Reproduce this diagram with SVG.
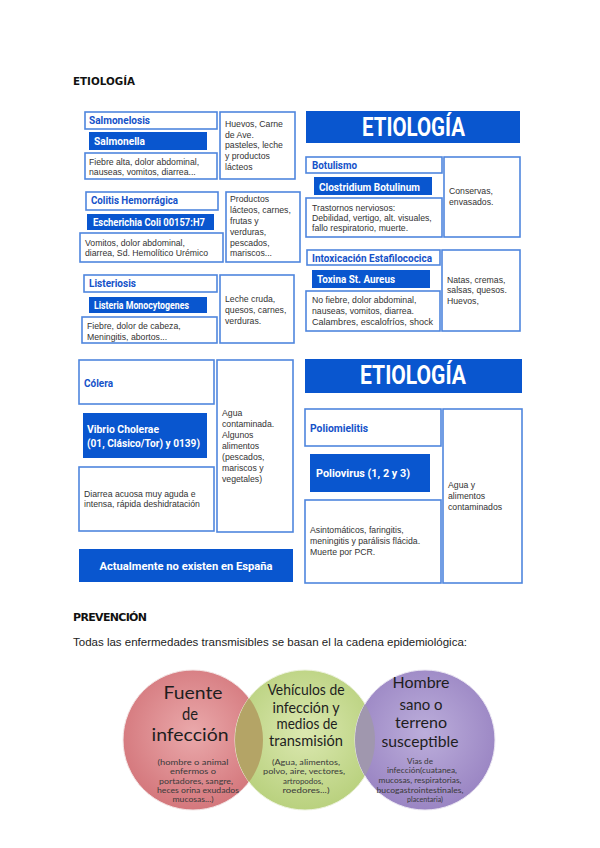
<svg xmlns="http://www.w3.org/2000/svg" width="600" height="848" viewBox="0 0 600 848">
<style>
.box{fill:#fff;stroke:#4f86de;stroke-width:1.6}
.fb{fill:#0956cf}
.hd{font-family:Roboto,"DejaVu Sans",sans-serif;font-weight:bold;font-size:10.5px;fill:#1552c9}
.wt{font-family:Roboto,"DejaVu Sans",sans-serif;font-weight:bold;font-size:10.5px;fill:#fff}
.ban{font-family:Roboto,"DejaVu Sans",sans-serif;font-weight:bold;font-size:25px;fill:#fff}
.tx{font-family:"Liberation Sans",Arial,sans-serif;font-size:8.7px;fill:#333}
.h1{font-family:"DejaVu Sans",sans-serif;font-weight:bold;font-size:11px;fill:#111}
.body{font-family:"Liberation Sans",Arial,sans-serif;font-size:10.5px;fill:#222}
.cb{font-family:Lato,"Open Sans",sans-serif;fill:#1e1e1e;text-anchor:middle}
.cs{font-family:Lato,"Open Sans",sans-serif;fill:#3a3a3a;text-anchor:middle;font-size:7.5px}
</style>
<defs>
<radialGradient id="gr" cx="50%" cy="45%" r="55%"><stop offset="0" stop-color="#eaa9ab"/><stop offset="1" stop-color="#d4777c"/></radialGradient>
<radialGradient id="gg" cx="50%" cy="45%" r="55%"><stop offset="0" stop-color="#dbe8b0"/><stop offset="1" stop-color="#b9d17e"/></radialGradient>
<radialGradient id="gp" cx="50%" cy="45%" r="55%"><stop offset="0" stop-color="#bcaedb"/><stop offset="1" stop-color="#9a85c3"/></radialGradient>
<clipPath id="cr"><circle cx="193" cy="740" r="70"/></clipPath>
<clipPath id="cp"><circle cx="425" cy="740" r="70"/></clipPath>
</defs>
<rect width="600" height="848" fill="#fff"/>

<g id="title-etiologia"><text class="h1" x="73" y="85" textLength="62" lengthAdjust="spacingAndGlyphs">ETIOLOGÍA</text></g>

<g id="salmonelosis">
<rect class="box" x="85" y="112" width="132" height="17"/>
<text class="hd" x="89" y="124" textLength="61" lengthAdjust="spacingAndGlyphs">Salmonelosis</text>
<rect class="fb" x="89" y="132" width="118" height="18"/>
<text class="wt" x="94" y="145" textLength="51" lengthAdjust="spacingAndGlyphs">Salmonella</text>
<rect class="box" x="85" y="153" width="132" height="26"/>
<text class="tx" x="89" y="165">Fiebre alta, dolor abdominal,</text>
<text class="tx" x="89" y="175">nauseas, vomitos, diarrea...</text>
<rect class="box" x="220" y="112" width="75" height="67"/>
<text class="tx" x="225" y="127">Huevos, Carne</text>
<text class="tx" x="225" y="138">de Ave.</text>
<text class="tx" x="225" y="148">pasteles, leche</text>
<text class="tx" x="225" y="159">y productos</text>
<text class="tx" x="225" y="170">lácteos</text>
</g>

<g id="colitis">
<rect class="box" x="86" y="192" width="132" height="18"/>
<text class="hd" x="91" y="204" textLength="87" lengthAdjust="spacingAndGlyphs">Colitis Hemorrágica</text>
<rect class="fb" x="87" y="214" width="127" height="16"/>
<text class="wt" x="93" y="226" textLength="112" lengthAdjust="spacingAndGlyphs">Escherichia Coli 00157:H7</text>
<rect class="box" x="80" y="233" width="143" height="29"/>
<text class="tx" x="85" y="246">Vomitos, dolor abdominal,</text>
<text class="tx" x="85" y="256">diarrea, Sd. Hemolítico Urémico</text>
<rect class="box" x="226" y="192" width="74" height="70"/>
<text class="tx" x="230" y="202">Productos</text>
<text class="tx" x="230" y="213">lácteos, carnes,</text>
<text class="tx" x="230" y="224">frutas y</text>
<text class="tx" x="230" y="235">verduras,</text>
<text class="tx" x="230" y="246">pescados,</text>
<text class="tx" x="230" y="256">mariscos...</text>
</g>

<g id="listeriosis">
<rect class="box" x="84" y="275" width="133" height="17"/>
<text class="hd" x="89" y="287" textLength="47" lengthAdjust="spacingAndGlyphs">Listeriosis</text>
<rect class="fb" x="89" y="297" width="118" height="16"/>
<text class="wt" x="94" y="309" textLength="95" lengthAdjust="spacingAndGlyphs">Listeria Monocytogenes</text>
<rect class="box" x="82" y="317" width="135" height="26"/>
<text class="tx" x="87" y="329">Fiebre, dolor de cabeza,</text>
<text class="tx" x="87" y="340">Meningitis, abortos...</text>
<rect class="box" x="220" y="275" width="74" height="68"/>
<text class="tx" x="225" y="302">Leche cruda,</text>
<text class="tx" x="225" y="313">quesos, carnes,</text>
<text class="tx" x="225" y="324">verduras.</text>
</g>

<g id="banner-1">
<rect class="fb" x="306" y="111" width="214" height="32"/>
<text class="ban" x="413.5" y="136" text-anchor="middle" textLength="103" lengthAdjust="spacingAndGlyphs">ETIOLOGÍA</text>
</g>

<g id="botulismo">
<rect class="box" x="306" y="157" width="136" height="16"/>
<text class="hd" x="312" y="169" textLength="45" lengthAdjust="spacingAndGlyphs">Botulismo</text>
<rect class="fb" x="314" y="177" width="118" height="18"/>
<text class="wt" x="319" y="191" textLength="101" lengthAdjust="spacingAndGlyphs">Clostridium Botulinum</text>
<rect class="box" x="306" y="198" width="136" height="39"/>
<text class="tx" x="312" y="211">Trastornos nerviosos:</text>
<text class="tx" x="312" y="221">Debilidad, vertigo, alt. visuales,</text>
<text class="tx" x="312" y="231">fallo respiratorio, muerte.</text>
<rect class="box" x="444" y="157" width="76" height="80"/>
<text class="tx" x="449" y="194">Conservas,</text>
<text class="tx" x="449" y="205">envasados.</text>
</g>

<g id="intoxicacion">
<rect class="box" x="307" y="250" width="133" height="15"/>
<text class="hd" x="312" y="262" textLength="120" lengthAdjust="spacingAndGlyphs">Intoxicación Estafilococica</text>
<rect class="fb" x="312" y="270" width="118" height="18"/>
<text class="wt" x="317" y="283" textLength="78" lengthAdjust="spacingAndGlyphs">Toxina St. Aureus</text>
<rect class="box" x="306" y="291" width="134" height="40"/>
<text class="tx" x="312" y="303">No fiebre, dolor abdominal,</text>
<text class="tx" x="312" y="314">nauseas, vomitos, diarrea.</text>
<text class="tx" x="312" y="325" textLength="121" lengthAdjust="spacingAndGlyphs">Calambres, escalofríos, shock</text>
<rect class="box" x="442" y="250" width="78" height="81"/>
<text class="tx" x="447" y="283">Natas, cremas,</text>
<text class="tx" x="447" y="293">salsas, quesos.</text>
<text class="tx" x="447" y="304">Huevos,</text>
</g>

<g id="colera">
<rect class="box" x="79" y="360" width="135" height="44"/>
<text class="hd" x="84" y="387" textLength="29" lengthAdjust="spacingAndGlyphs">Cólera</text>
<rect class="fb" x="83" y="413" width="124" height="45"/>
<text class="wt" x="87" y="433" style="font-size:11.5px" textLength="72" lengthAdjust="spacingAndGlyphs">Vibrio Cholerae</text>
<text class="wt" x="87" y="447" style="font-size:11.5px" textLength="113" lengthAdjust="spacingAndGlyphs">(01, Clásico/Tor) y 0139)</text>
<rect class="box" x="79" y="467" width="135" height="64"/>
<text class="tx" x="84" y="497">Diarrea acuosa muy aguda e</text>
<text class="tx" x="84" y="507">intensa, rápida deshidratación</text>
<rect class="box" x="217" y="360" width="76" height="172"/>
<text class="tx" x="222" y="416">Agua</text>
<text class="tx" x="222" y="427">contaminada.</text>
<text class="tx" x="222" y="438">Algunos</text>
<text class="tx" x="222" y="449">alimentos</text>
<text class="tx" x="222" y="460">(pescados,</text>
<text class="tx" x="222" y="471">mariscos y</text>
<text class="tx" x="222" y="482">vegetales)</text>
</g>

<g id="actualmente">
<rect class="fb" x="79" y="549" width="214" height="33"/>
<text class="wt" x="186" y="570" text-anchor="middle" style="font-size:11.5px" textLength="173" lengthAdjust="spacingAndGlyphs">Actualmente no existen en España</text>
</g>

<g id="banner-2">
<rect class="fb" x="305" y="359" width="217" height="34"/>
<text class="ban" x="413" y="384" text-anchor="middle" textLength="106" lengthAdjust="spacingAndGlyphs">ETIOLOGÍA</text>
</g>

<g id="poliomielitis">
<rect class="box" x="305" y="409" width="136" height="37"/>
<text class="hd" x="310" y="432" textLength="58" lengthAdjust="spacingAndGlyphs">Poliomielitis</text>
<rect class="fb" x="310" y="454" width="120" height="38"/>
<text class="wt" x="316" y="477" style="font-size:11.5px" textLength="94" lengthAdjust="spacingAndGlyphs">Poliovirus (1, 2 y 3)</text>
<rect class="box" x="305" y="500" width="136" height="83"/>
<text class="tx" x="310" y="533">Asintomáticos, faringitis,</text>
<text class="tx" x="310" y="544">meningitis y parálisis flácida.</text>
<text class="tx" x="310" y="555">Muerte por PCR.</text>
<rect class="box" x="443" y="409" width="79" height="174"/>
<text class="tx" x="448" y="488">Agua y</text>
<text class="tx" x="448" y="499">alimentos</text>
<text class="tx" x="448" y="510">contaminados</text>
</g>

<g id="title-prevencion">
<text class="h1" x="73" y="621" textLength="74" lengthAdjust="spacing">PREVENCIÓN</text>
<text class="body" x="73" y="646" textLength="394" lengthAdjust="spacingAndGlyphs">Todas las enfermedades transmisibles se basan el la cadena epidemiológica:</text>
</g>

<g id="fuente">
<circle cx="193" cy="740" r="70" fill="url(#gr)" stroke="#f3e6e6" stroke-width="1"/>
</g>
<g id="vehiculos">
<circle cx="305" cy="740" r="70" fill="url(#gg)" stroke="#eef3e0" stroke-width="1"/>
<circle cx="305" cy="740" r="70" fill="#b4a466" clip-path="url(#cr)"/>
</g>
<g id="hombre">
<circle cx="425" cy="740" r="70" fill="url(#gp)" stroke="#ece8f3" stroke-width="1"/>
<circle cx="305" cy="740" r="70" fill="#a097ae" clip-path="url(#cp)"/>
</g>
<g id="circle-texts">
<text class="cb" x="193" y="699" font-size="17" textLength="59" lengthAdjust="spacingAndGlyphs">Fuente</text>
<text class="cb" x="190" y="720" font-size="17" textLength="16" lengthAdjust="spacingAndGlyphs">de</text>
<text class="cb" x="190" y="741" font-size="17" textLength="77" lengthAdjust="spacingAndGlyphs">infección</text>
<text class="cs" x="193" y="765" textLength="71" lengthAdjust="spacingAndGlyphs">(hombre o animal</text>
<text class="cs" x="193" y="774" textLength="46" lengthAdjust="spacingAndGlyphs">enfermos o</text>
<text class="cs" x="196" y="784" textLength="74" lengthAdjust="spacingAndGlyphs">portadores, sangre,</text>
<text class="cs" x="198" y="793" textLength="82" lengthAdjust="spacingAndGlyphs">heces orina exudados</text>
<text class="cs" x="193" y="802" textLength="41" lengthAdjust="spacingAndGlyphs">mucosas...)</text>

<text class="cb" x="306" y="695" font-size="14.5" textLength="77" lengthAdjust="spacingAndGlyphs">Vehículos de</text>
<text class="cb" x="306" y="713" font-size="14.5" textLength="67" lengthAdjust="spacingAndGlyphs">infección y</text>
<text class="cb" x="307" y="729" font-size="14.5" textLength="61" lengthAdjust="spacingAndGlyphs">medios de</text>
<text class="cb" x="306" y="746" font-size="14.5" textLength="74" lengthAdjust="spacingAndGlyphs">transmisión</text>
<text class="cs" x="306" y="765" textLength="68" lengthAdjust="spacingAndGlyphs">(Agua, alimentos,</text>
<text class="cs" x="304" y="774" textLength="82" lengthAdjust="spacingAndGlyphs">polvo, aire, vectores,</text>
<text class="cs" x="303" y="784" textLength="40" lengthAdjust="spacingAndGlyphs">artropodos,</text>
<text class="cs" x="306" y="793" textLength="47" lengthAdjust="spacingAndGlyphs">roedores...)</text>

<text class="cb" x="421" y="688" font-size="16" textLength="57" lengthAdjust="spacingAndGlyphs">Hombre</text>
<text class="cb" x="421" y="710" font-size="16" textLength="43" lengthAdjust="spacingAndGlyphs">sano o</text>
<text class="cb" x="421" y="728" font-size="16" textLength="52" lengthAdjust="spacingAndGlyphs">terreno</text>
<text class="cb" x="420" y="747" font-size="16" textLength="77" lengthAdjust="spacingAndGlyphs">susceptible</text>
<text class="cs" x="420" y="764" style="font-size:6.8px" textLength="26" lengthAdjust="spacingAndGlyphs">Vias de</text>
<text class="cs" x="422" y="773" style="font-size:6.8px" textLength="70" lengthAdjust="spacingAndGlyphs">infección(cuatanea,</text>
<text class="cs" x="420" y="783" style="font-size:6.8px" textLength="83" lengthAdjust="spacingAndGlyphs">mucosas, respiratorias,</text>
<text class="cs" x="420" y="793" style="font-size:6.8px" textLength="87" lengthAdjust="spacingAndGlyphs">bucogastrointestinales,</text>
<text class="cs" x="425" y="802" style="font-size:6.8px" textLength="36" lengthAdjust="spacingAndGlyphs">placentaria)</text>
</g>
<g id="connectors"/>
</svg>
